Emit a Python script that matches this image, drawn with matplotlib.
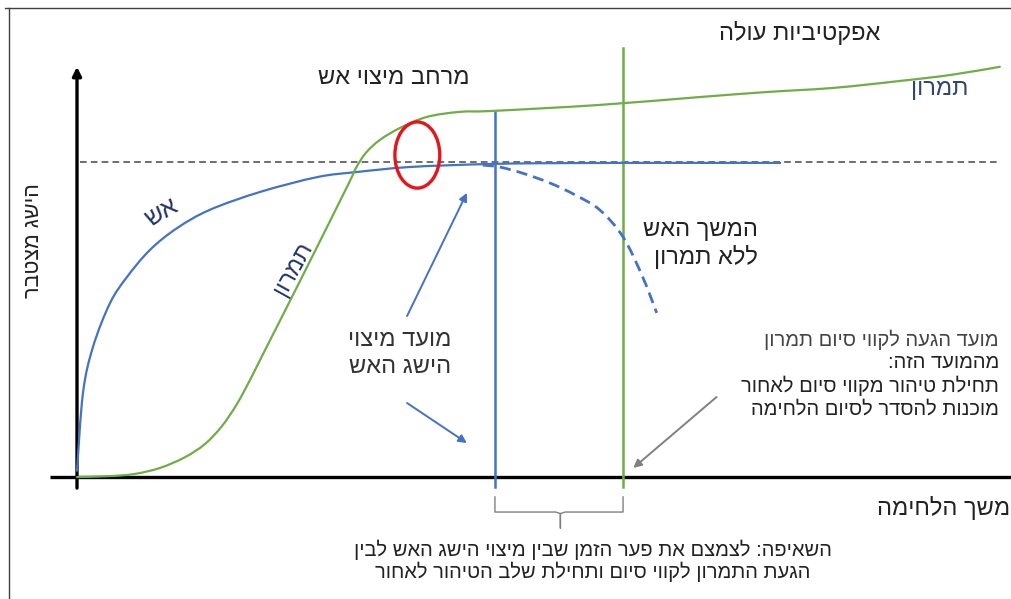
import matplotlib
matplotlib.use("Agg")
import matplotlib.pyplot as plt
from matplotlib.patches import Ellipse, PathPatch
from matplotlib.path import Path
from matplotlib.lines import Line2D

plt.rcParams['font.family'] = ['Liberation Sans', 'DejaVu Sans']

# ---- data (conceptual units: time 0-100, cumulative achievement, 100 = fire plateau) ----
fire_x = [0, 0.64, 1.71, 3.53, 5.35, 7.81, 10.7, 14.2, 19.6, 25.7, 29.9, 35.6, 43.4, 50.0, 60.0, 75.2]
fire_y = [2.0, 26.7, 41.3, 55.2, 63.5, 72.1, 79.0, 84.8, 90.5, 95.2, 96.8, 98.4, 99.3, 99.6, 99.7, 99.7]

fire_nomaneuver_x = [43.4, 45.2, 47.8, 50.6, 53.3, 55.9, 58.4, 60.5, 62.0]
fire_nomaneuver_y = [99.0, 98.4, 96.3, 93.3, 89.5, 84.8, 76.2, 63.5, 52.1]

maneuver_x = [0, 3.53, 6.2, 8.88, 11.55, 13.69, 15.51, 17.11, 18.5, 19.79, 23.85, 28.88,
              29.84, 30.9, 32.4, 34.55, 37.43, 40.96, 44.5, 55.9, 66.6, 73.8, 80.9, 88.0,
              93.4, 98.7]
maneuver_y = [0, 0.3, 1.0, 2.9, 6.3, 10.5, 16.2, 23.2, 30.8, 38.4, 62.2, 92.1,
              98.1, 102.9, 107.0, 110.8, 114.3, 115.9, 116.2, 118.1, 120.6, 122.2, 123.5, 125.7,
              127.6, 130.2]

plateau_level = 100.0
fire_exhaust_time = 44.7       # blue vertical line
maneuver_end_time = 58.4       # green vertical line


def rtl(s):
    """Visual order for right-to-left Hebrew text."""
    return s[::-1]


def smooth_path(xs, ys):
    """Smooth path through the given points (Catmull-Rom as cubic Bezier)."""
    pts = list(zip(xs, ys))
    verts = [pts[0]]
    codes = [Path.MOVETO]
    n = len(pts)
    for i in range(n - 1):
        p0 = pts[i - 1] if i > 0 else pts[i]
        p1 = pts[i]
        p2 = pts[i + 1]
        p3 = pts[i + 2] if i + 2 < n else pts[i + 1]
        c1 = (p1[0] + (p2[0] - p0[0]) / 6, p1[1] + (p2[1] - p0[1]) / 6)
        c2 = (p2[0] - (p3[0] - p1[0]) / 6, p2[1] - (p3[1] - p1[1]) / 6)
        verts += [c1, c2, p2]
        codes += [Path.CURVE4] * 3
    return Path(verts, codes)


fig = plt.figure(figsize=(10.12, 5.99), dpi=100)
ax = fig.add_axes([0, 0, 1, 1])
ax.set_xlim(-8.235, 100.0)
ax.set_ylim(-38.7, 151.4)
ax.axis('off')

blue = '#4472C4'
green = '#70AD47'
txt = '#222222'

# outer frame (top & left)
fig.add_artist(Line2D([5/1012, 1], [1-8/599, 1-8/599], color='#404040', lw=1.0))
fig.add_artist(Line2D([9/1012, 9/1012], [0, 1-8/599], color='#404040', lw=1.0))

# axes
ax.plot([-2.9, 100], [0, 0], color='black', lw=2.4, solid_capstyle='butt', zorder=3)
ax.annotate('', xy=(0, 130.2), xytext=(0, -3.5),
            arrowprops=dict(arrowstyle='-|>', lw=2.4, color='black', mutation_scale=13,
                            shrinkA=0, shrinkB=0), zorder=3)

# plateau dashed line
ax.plot([0.3, 98.7], [plateau_level, plateau_level], color='#555555', lw=1.2,
        dashes=(4, 2.5), zorder=2)

# curves
ax.add_patch(PathPatch(smooth_path(fire_x, fire_y), fill=False, edgecolor=blue, lw=1.6,
                       zorder=4, capstyle='round'))
ax.add_patch(PathPatch(smooth_path(fire_nomaneuver_x, fire_nomaneuver_y), fill=False,
                       edgecolor=blue, lw=2.0, linestyle=(0, (4, 2.2)), zorder=4))
ax.add_patch(PathPatch(smooth_path(maneuver_x, maneuver_y), fill=False, edgecolor=green,
                       lw=1.6, zorder=4, capstyle='round'))

# vertical markers
ax.plot([fire_exhaust_time, fire_exhaust_time], [-3.2, 115.9], color=blue, lw=1.8, zorder=3)
ax.plot([maneuver_end_time, maneuver_end_time], [-3.2, 136.2], color=green, lw=1.8, zorder=3)

# red ellipse
ax.add_patch(Ellipse((36.4, 102.2), 4.8, 21.0, fill=False, edgecolor='#E8141B', lw=2.4, zorder=5))

# arrows
ap_blue = dict(arrowstyle='-|>', lw=1.4, color=blue, mutation_scale=12, shrinkA=0, shrinkB=0)
ax.annotate('', xy=(41.7, 90.2), xytext=(35.3, 51.1), arrowprops=ap_blue)
ax.annotate('', xy=(41.7, 10.8), xytext=(35.3, 23.5), arrowprops=ap_blue)
ax.annotate('', xy=(59.5, 2.9), xytext=(68.4, 25.4),
            arrowprops=dict(arrowstyle='-|>', lw=1.4, color='#808080', mutation_scale=12,
                            shrinkA=0, shrinkB=0))

# bracket
bx0, bx1, bmid = fire_exhaust_time, maneuver_end_time, 51.7
ax.plot([bx0, bx0, bmid - 0.5, bmid, bmid, bmid, bmid + 0.5, bx1, bx1],
        [-6.3, -11.1, -11.1, -11.6, -16.2, -11.6, -11.1, -11.1, -6.3],
        color='#808080', lw=1.0)

# texts
ax.text(77.3, 141.0, rtl('אפקטיביות עולה'), ha='center', va='center', fontsize=17, color=txt)
ax.text(33.9, 126.7, rtl('מרחב מיצוי אש'), ha='center', va='center', fontsize=17, color=txt)
ax.text(92.3, 123.3, rtl('תמרון'), ha='center', va='center', fontsize=17, color='#34466E')
ax.text(9.1, 84.1, rtl('אש'), ha='center', va='center', fontsize=18, color='#23336A',
        rotation=30, rotation_mode='anchor')
ax.text(23.1, 66.3, rtl('תמרון'), ha='center', va='center', fontsize=17, color='#23336A',
        rotation=61, rotation_mode='anchor')
ax.text(-4.6, 75.2, rtl('הישג מצטבר'), ha='center', va='center', fontsize=15.5, color=txt,
        rotation=90, rotation_mode='anchor')

ax.text(72.8, 78.4, rtl('המשך האש'), ha='right', va='center', fontsize=17, color=txt)
ax.text(72.8, 69.8, rtl('ללא תמרון'), ha='right', va='center', fontsize=17, color=txt)

ax.text(34.5, 43.5, rtl('מועד מיצוי'), ha='center', va='center', fontsize=17, color='#333333')
ax.text(34.5, 34.9, rtl('הישג האש'), ha='center', va='center', fontsize=17, color='#333333')

right_lines = ['מועד הגעה לקווי סיום תמרון', 'מהמועד הזה:',
               'תחילת טיהור מקווי סיום לאחור', 'מוכנות להסדר לסיום הלחימה']
right_y = [43.5, 36.2, 28.9, 21.6]
right_col = ['#444444', txt, txt, txt]
for s, yy, c in zip(right_lines, right_y, right_col):
    ax.text(98.6, yy, rtl(s), ha='right', va='center', fontsize=14.5, color=c)

ax.text(99.8, -9.8, rtl('משך הלחימה'), ha='right', va='center', fontsize=17, color=txt)

ax.text(55.2, -23.2, rtl('השאיפה: לצמצם את פער הזמן שבין מיצוי הישג האש לבין'),
        ha='center', va='center', fontsize=14.5, color=txt)
ax.text(55.2, -30.2, rtl('הגעת התמרון לקווי סיום ותחילת שלב הטיהור לאחור'),
        ha='center', va='center', fontsize=14.5, color=txt)

fig.savefig('out.png', dpi=100)
